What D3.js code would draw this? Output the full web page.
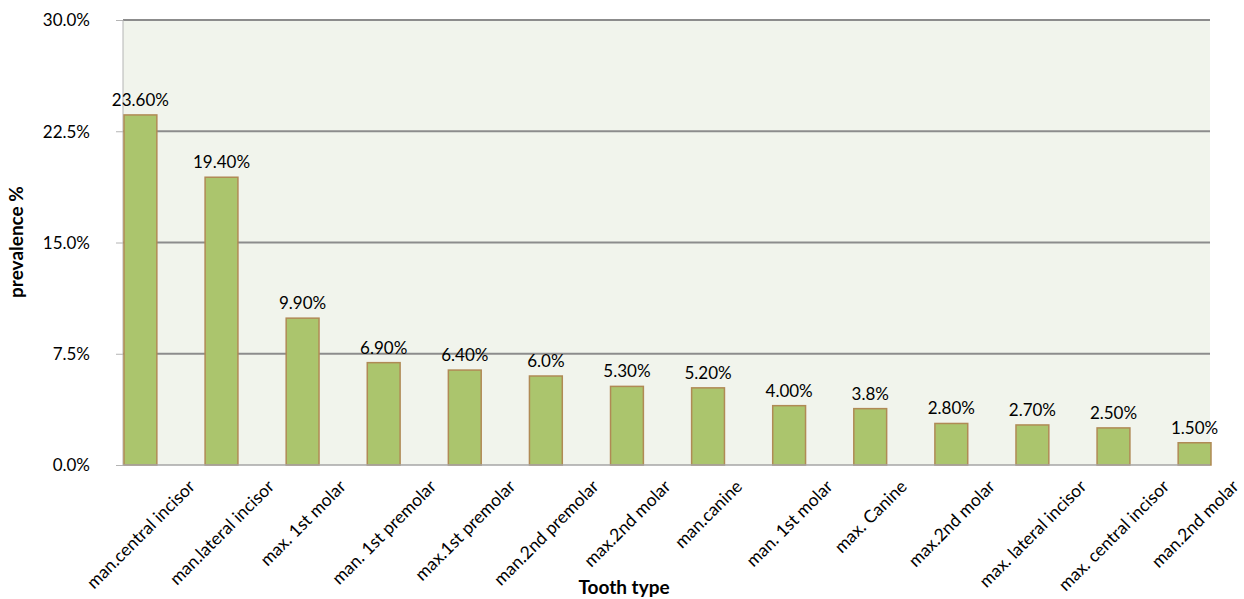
<!DOCTYPE html>
<html>
<head>
<meta charset="utf-8">
<script src="https://cdn.jsdelivr.net/npm/d3@7"></script>
<style>
  body { margin: 0; background: #fff; }
  svg text { font-family: Lato, "Open Sans", sans-serif; fill: #000; }
</style>
</head>
<body>
<div id="chart"></div>
<script>
'use strict'
// data
var teeth = [
  'man.central incisor',
  'man.lateral incisor',
  'max. 1st molar',
  'man. 1st premolar',
  'max.1st premolar',
  'man.2nd premolar',
  'max.2nd molar',
  'man.canine',
  'man. 1st molar',
  'max. Canine',
  'max.2nd molar',
  'max. lateral incisor',
  'max. central incisor',
  'man.2nd molar'
]
var prevalence = [23.6, 19.4, 9.9, 6.9, 6.4, 6.0, 5.3, 5.2, 4.0, 3.8, 2.8, 2.7, 2.5, 1.5]
var valueLabels = ['23.60%', '19.40%', '9.90%', '6.90%', '6.40%', '6.0%', '5.30%', '5.20%', '4.00%', '3.8%', '2.80%', '2.70%', '2.50%', '1.50%']
var yTicks = [0, 7.5, 15, 22.5, 30]

var W = 1244, H = 599
var plot = {left: 123, right: 1210, top: 20, bottom: 465}

var svg = d3.select('#chart').append('svg')
  .attr('width', W)
  .attr('height', H)

var y = d3.scaleLinear().domain([0, 30]).range([plot.bottom, plot.top])
// keys by index, two bars share the label 'max.2nd molar'
var x = d3.scaleBand()
  .domain(d3.range(teeth.length))
  .range([plot.left + 1, plot.right + 1])
  .paddingInner(0.595)
  .paddingOuter(0)

// plot background
svg.append('rect')
  .attr('x', plot.left)
  .attr('y', plot.top)
  .attr('width', plot.right - plot.left)
  .attr('height', plot.bottom - plot.top)
  .attr('fill', '#f1f4ec')

// grid lines
svg.append('g').selectAll('line')
  .data(yTicks.filter(t => t > 0))
  .join('line')
  .attr('x1', plot.left)
  .attr('x2', plot.right)
  .attr('y1', d => y(d))
  .attr('y2', d => y(d))
  .attr('stroke', '#8c8c8c')
  .attr('stroke-width', 2)

// y axis
var yAxis = svg.append('g')
  .attr('transform', `translate(${plot.left},0)`)
  .call(d3.axisLeft(y).tickValues(yTicks).tickSize(7).tickPadding(26)
    .tickFormat(d => d3.format('.1f')(d) + '%'))
yAxis.select('.domain').attr('stroke', '#b4b4b4').attr('d', `M0,${plot.top}V${plot.bottom}`)
yAxis.selectAll('.tick line').attr('stroke', '#b4b4b4')
yAxis.selectAll('.tick text')
  .style('font-size', '17px')
  .attr('dy', '0.35em')

// bars
svg.append('g').selectAll('rect')
  .data(prevalence)
  .join('rect')
  .attr('x', (d, i) => x(i))
  .attr('y', d => y(d))
  .attr('width', x.bandwidth())
  .attr('height', d => y(0) - y(d))
  .attr('fill', '#abc56d')
  .attr('stroke', '#b08a55')
  .attr('stroke-width', 1.5)

// base line
svg.append('line')
  .attr('x1', plot.left)
  .attr('x2', plot.right)
  .attr('y1', plot.bottom)
  .attr('y2', plot.bottom)
  .attr('stroke', '#a6a6a6')
  .attr('stroke-width', 1.5)

// value labels
svg.append('g').selectAll('text')
  .data(prevalence)
  .join('text')
  .attr('x', (d, i) => x(i) + x.bandwidth() / 2)
  .attr('y', d => y(d) - 9)
  .attr('text-anchor', 'middle')
  .style('font-size', '17px')
  .text((d, i) => valueLabels[i])

// category labels, rotated box centred under the bar, top just below axis
var labelTop = 477
svg.append('g').selectAll('text')
  .data(teeth)
  .join('text')
  .attr('text-anchor', 'middle')
  .attr('dominant-baseline', 'central')
  .style('font-size', '17.5px')
  .text(d => d)
  .attr('transform', function (d, i) {
    var len = this.getComputedTextLength()
    var cy = labelTop + (len + 17) * Math.SQRT1_2 / 2
    return `translate(${x(i) + x.bandwidth() / 2},${cy}) rotate(-45)`
  })

// axis titles
svg.append('text')
  .attr('x', 624)
  .attr('y', 594)
  .attr('text-anchor', 'middle')
  .style('font-size', '19px')
  .style('font-weight', 'bold')
  .text('Tooth type')

svg.append('text')
  .attr('transform', 'translate(23,242) rotate(-90)')
  .attr('text-anchor', 'middle')
  .style('font-size', '19px')
  .style('font-weight', 'bold')
  .text('prevalence %')
</script>
</body>
</html>
